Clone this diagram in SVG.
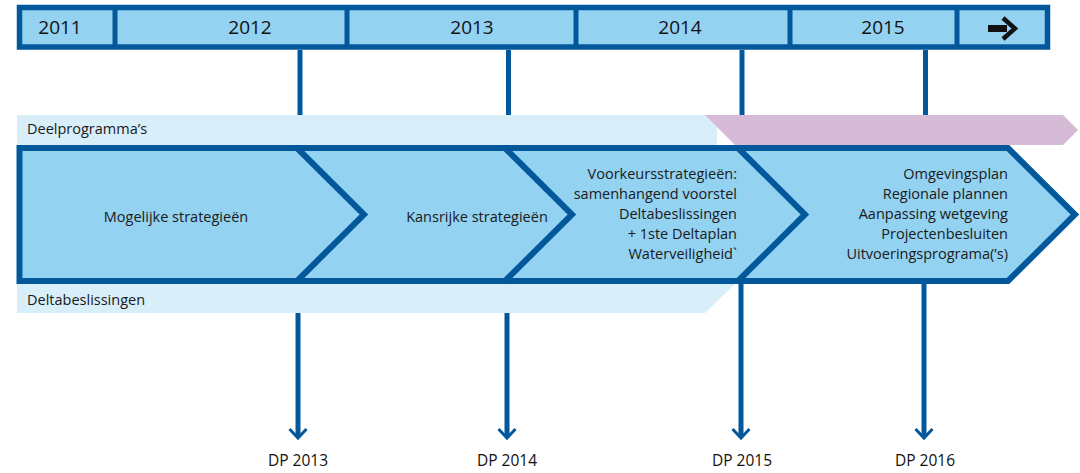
<svg xmlns="http://www.w3.org/2000/svg" width="1080" height="473" viewBox="0 0 1080 473">
<defs>
<style>
.dk{stroke:#03589b;fill:none}
.t{font-family:"Open Sans","Liberation Sans",sans-serif;font-size:14.5px;fill:#1a1a1a}
.yr{font-family:"Open Sans","Liberation Sans",sans-serif;font-size:19px;fill:#111;text-anchor:middle}
.dp{font-family:"Open Sans","Liberation Sans",sans-serif;font-size:15.5px;fill:#111;text-anchor:middle}
.e{text-anchor:end}
.m{text-anchor:middle}
</style>
</defs>
<rect width="1080" height="473" fill="#fff"/>
<g id="timeline">
<rect x="19.5" y="7.5" width="1028" height="39.5" fill="#93d2f1" stroke="#03589b" stroke-width="5.5"/>
<g class="dk" stroke-width="5">
<line x1="115" y1="8" x2="115" y2="47"/>
<line x1="347" y1="8" x2="347" y2="47"/>
<line x1="576" y1="8" x2="576" y2="47"/>
<line x1="790" y1="8" x2="790" y2="47"/>
<line x1="957" y1="8" x2="957" y2="47"/>
</g>
<text class="yr" x="60" y="34">2011</text>
<text class="yr" x="250" y="34">2012</text>
<text class="yr" x="472" y="34">2013</text>
<text class="yr" x="680" y="34">2014</text>
<text class="yr" x="883" y="34">2015</text>
<rect x="988" y="25" width="19" height="7" fill="#111"/>
<polyline points="1003,18 1015,28.5 1003,39" fill="none" stroke="#111" stroke-width="4.5"/>
</g>
<g id="deelprogrammas">
<rect x="17" y="115" width="700" height="30" fill="#d8eef9"/>
<polygon points="705,115 1063,115 1078,130 1063,145 735,145" fill="#d6bbd6"/>
<text class="t" x="27" y="134">Deelprogramma’s</text>
</g>
<g id="deltabeslissingen">
<polygon points="17,284 735,284 705,313 17,313" fill="#d8eef9"/>
<text class="t" x="27" y="305">Deltabeslissingen</text>
</g>
<g id="phases">
<polygon points="19.5,148 1008,148 1075,214.5 1008,281 19.5,281" fill="#93d2f1" stroke="#03589b" stroke-width="6"/>
<g class="dk" stroke-width="6">
<polyline points="297,148 364,214.5 297,281"/>
<polyline points="505,148 572,214.5 505,281"/>
<polyline points="738,148 805,214.5 738,281"/>
</g>
</g>
<g id="phase1"><text class="t m" x="176" y="222">Mogelijke strategieën</text></g>
<g id="phase2"><text class="t m" x="477" y="222">Kansrijke strategieën</text></g>
<g id="phase3">
<text class="t e" x="737" y="179">Voorkeursstrategieën:</text>
<text class="t e" x="737" y="199">samenhangend voorstel</text>
<text class="t e" x="737" y="219">Deltabeslissingen</text>
<text class="t e" x="737" y="239">+ 1ste Deltaplan</text>
<text class="t e" x="737" y="259">Waterveiligheid`</text>
</g>
<g id="phase4">
<text class="t e" x="1008" y="179">Omgevingsplan</text>
<text class="t e" x="1008" y="199">Regionale plannen</text>
<text class="t e" x="1008" y="219">Aanpassing wetgeving</text>
<text class="t e" x="1008" y="239">Projectenbesluiten</text>
<text class="t e" x="1008" y="259">Uitvoeringsprograma(’s)</text>
</g>
<g id="connectors" class="dk">
<g stroke-width="5">
<line x1="300" y1="50" x2="300" y2="115"/>
<line x1="508.5" y1="50" x2="508.5" y2="115"/>
<line x1="742" y1="50" x2="742" y2="115"/>
<line x1="925.5" y1="50" x2="925.5" y2="115"/>
<line x1="298" y1="313" x2="298" y2="436"/>
<line x1="507" y1="313" x2="507" y2="436"/>
<line x1="741" y1="284" x2="741" y2="436"/>
<line x1="924" y1="284" x2="924" y2="436"/>
</g>
<g stroke-width="3">
<polyline points="289.5,429 298,438 306.5,429"/>
<polyline points="498.5,429 507,438 515.5,429"/>
<polyline points="732.5,429 741,438 749.5,429"/>
<polyline points="915.5,429 924,438 932.5,429"/>
</g>
</g>
<g id="labels">
<text class="dp" x="298" y="466">DP 2013</text>
<text class="dp" x="507" y="466">DP 2014</text>
<text class="dp" x="742" y="466">DP 2015</text>
<text class="dp" x="925" y="466">DP 2016</text>
</g>
</svg>
